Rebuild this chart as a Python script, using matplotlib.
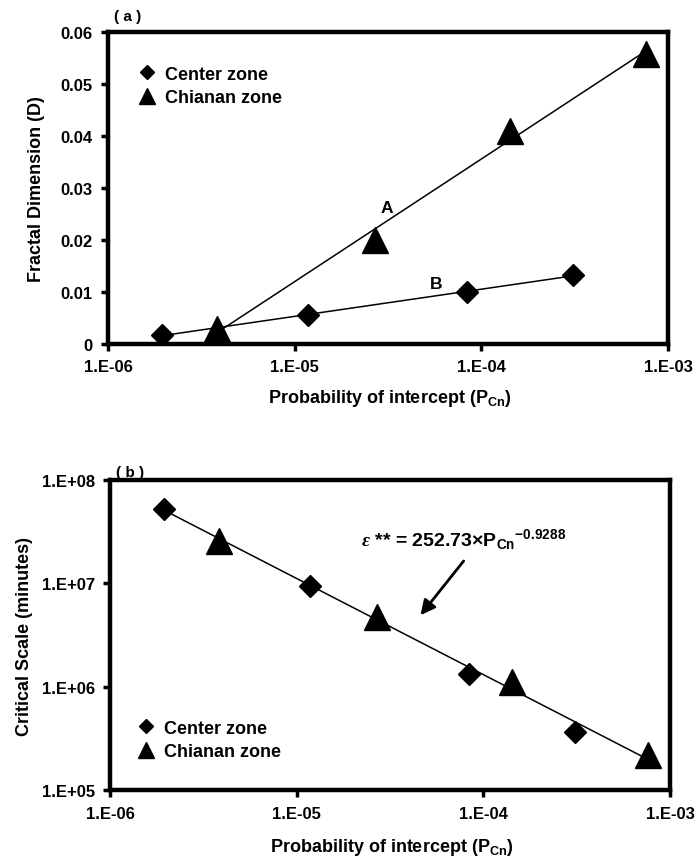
import numpy as np
import matplotlib.pyplot as plt
from matplotlib.ticker import FixedLocator, FixedFormatter, NullLocator

plt.rcParams['font.family'] = ['Liberation Sans', 'DejaVu Sans']
plt.rcParams['font.weight'] = 'bold'
plt.rcParams['axes.labelweight'] = 'bold'
plt.rcParams['mathtext.fontset'] = 'custom'
plt.rcParams['mathtext.rm'] = 'Liberation Sans:bold'
plt.rcParams['mathtext.bf'] = 'Liberation Sans:bold'
plt.rcParams['mathtext.it'] = 'Liberation Serif:italic'
plt.rcParams['mathtext.default'] = 'rm'

# Datos
p_centro = [1.95e-6, 1.18e-5, 8.4e-5, 3.1e-4]
p_chianan = [3.83e-6, 2.7e-5, 1.42e-4, 7.6e-4]

D_centro = [0.0017, 0.0055, 0.0100, 0.0132]
D_chianan = [0.0029, 0.0200, 0.0410, 0.0558]

esc_centro = [5.3e7, 9.4e6, 1.33e6, 3.7e5]
esc_chianan = [2.6e7, 4.7e6, 1.12e6, 2.2e5]

# ajuste del panel (b): eps = 252.73 * P^-0.9288
coef_a = 252.73
coef_b = -0.9288

xticks = [1e-6, 1e-5, 1e-4, 1e-3]
xticklabels = ['1.E-06', '1.E-05', '1.E-04', '1.E-03']
yticks_a = [0, 0.01, 0.02, 0.03, 0.04, 0.05, 0.06]
yticklabels_a = ['0', '0.01', '0.02', '0.03', '0.04', '0.05', '0.06']
yticks_b = [1e5, 1e6, 1e7, 1e8]
yticklabels_b = ['1.E+05', '1.E+06', '1.E+07', '1.E+08']

fig = plt.figure(figsize=(6.98, 8.62), dpi=100)
ax1 = fig.add_axes([0.155, 0.600, 0.802, 0.362])
ax2 = fig.add_axes([0.158, 0.082, 0.802, 0.360])

def estilo(ax):
    for s in ax.spines.values():
        s.set_linewidth(3.2)
    ax.tick_params(which='major', direction='out', length=5, width=2.5,
                   labelsize=12, pad=6)
    ax.xaxis.set_minor_locator(NullLocator())
    ax.yaxis.set_minor_locator(NullLocator())

kw_d = dict(marker='D', ms=11.5, color='black', ls='none')
kw_t = dict(marker='^', ms=19, color='black', ls='none')
kw_leg = dict(frameon=False, fontsize=13, markerscale=0.6, handlelength=1.0,
              handletextpad=0.5, labelspacing=0.35, borderaxespad=0)

# ---- panel (a) ----
ax1.set_xscale('log')
lx = np.log10(p_chianan)
m, b = np.polyfit(lx, D_chianan, 1)
xx = np.array([lx[0], lx[-1]])
ax1.plot(10**xx, m*xx + b, 'k-', lw=1.1)
lx = np.log10(p_centro)
m, b = np.polyfit(lx, D_centro, 1)
xx = np.array([lx[0], lx[-1]])
ax1.plot(10**xx, m*xx + b, 'k-', lw=1.1)
ax1.plot(p_centro, D_centro, label='Center zone', **kw_d)
ax1.plot(p_chianan, D_chianan, label='Chianan zone', **kw_t)
ax1.set_xlim(1e-6, 1e-3)
ax1.set_ylim(0, 0.06)
ax1.xaxis.set_major_locator(FixedLocator(xticks))
ax1.xaxis.set_major_formatter(FixedFormatter(xticklabels))
ax1.yaxis.set_major_locator(FixedLocator(yticks_a))
ax1.yaxis.set_major_formatter(FixedFormatter(yticklabels_a))
estilo(ax1)
ax1.set_xlabel('Probability of intercept (P$_{Cn}$)', fontsize=13)
ax1.set_ylabel('Fractal Dimension (D)', fontsize=13)
ax1.xaxis.set_label_coords(0.503, -0.140)
ax1.yaxis.set_label_coords(-0.112, 0.5)
ax1.text(3.1e-5, 0.0263, 'A', fontsize=12.5, ha='center', va='center')
ax1.text(5.7e-5, 0.0115, 'B', fontsize=12.5, ha='center', va='center')
ax1.text(0.01, 1.051, '( a )', transform=ax1.transAxes, fontsize=11,
         ha='left', va='center')
ax1.legend(loc='upper left', bbox_to_anchor=(0.04, 0.915), **kw_leg)

# ---- panel (b) ----
ax2.set_xscale('log')
ax2.set_yscale('log')
lx = np.log10([min(p_centro), max(p_chianan)])
ax2.plot(10**lx, coef_a * (10**lx)**coef_b, 'k-', lw=1.1)
ax2.plot(p_centro, esc_centro, label='Center zone', **kw_d)
ax2.plot(p_chianan, esc_chianan, label='Chianan zone', **kw_t)
ax2.set_xlim(1e-6, 1e-3)
ax2.set_ylim(1e5, 1e8)
ax2.xaxis.set_major_locator(FixedLocator(xticks))
ax2.xaxis.set_major_formatter(FixedFormatter(xticklabels))
ax2.yaxis.set_major_locator(FixedLocator(yticks_b))
ax2.yaxis.set_major_formatter(FixedFormatter(yticklabels_b))
estilo(ax2)
ax2.set_xlabel('Probability of intercept (P$_{Cn}$)', fontsize=13)
ax2.set_ylabel('Critical Scale (minutes)', fontsize=13)
ax2.xaxis.set_label_coords(0.503, -0.147)
ax2.yaxis.set_label_coords(-0.138, 0.5)
ax2.text(0.01, 1.026, '( b )', transform=ax2.transAxes, fontsize=11,
         ha='left', va='center')
ax2.text(2.2e-5, 2.7e7,
         r'$\mathit{\varepsilon}$ ** = 252.73$\times$P$_{Cn}$$^{-0.9288}$',
         fontsize=14, ha='left', va='center')
ax2.annotate('', xy=(4.5e-5, 4.7e6), xytext=(8e-5, 1.73e7),
             arrowprops=dict(arrowstyle='-|>', color='black', lw=2,
                             mutation_scale=22))
ax2.legend(loc='lower left', bbox_to_anchor=(0.035, 0.075), **kw_leg)

fig.savefig('out.png', dpi=100)
